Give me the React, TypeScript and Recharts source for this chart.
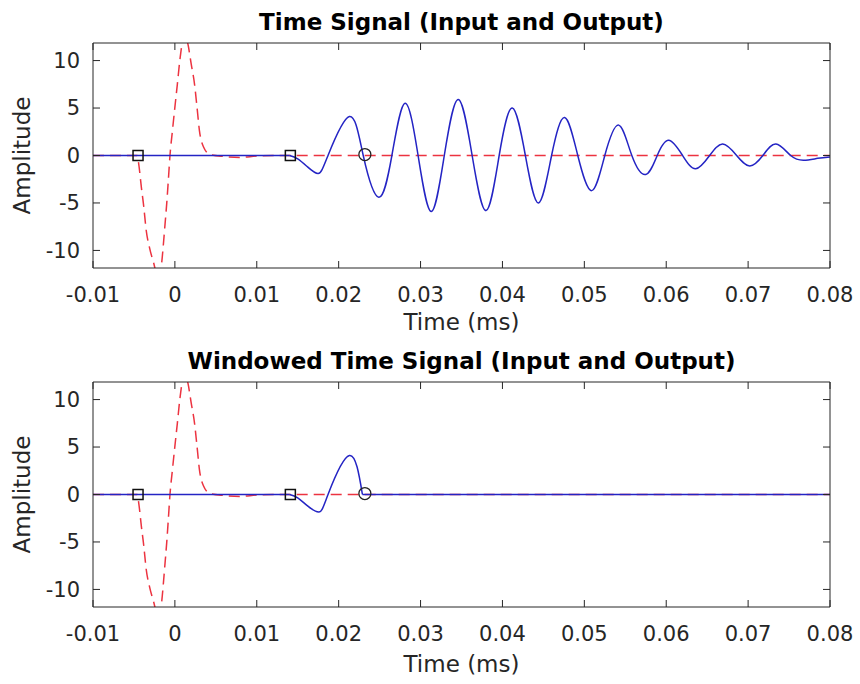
import React from 'react';
import { ComposedChart, Line, XAxis, YAxis } from 'recharts';

const timeTicks = [-0.01, 0, 0.01, 0.02, 0.03, 0.04, 0.05, 0.06, 0.07, 0.08];
const ampTicks = [-10, -5, 0, 5, 10];
const timeDomain: [number, number] = [-0.01, 0.08];
const ampDomain: [number, number] = [-11.85, 11.85];

const titles = ['Time Signal (Input and Output)', 'Windowed Time Signal (Input and Output)'];
const xLabel = 'Time (ms)';
const yLabel = 'Amplitude';

// Input pulse (red dashed)
const inputPulse = [
  { t: -0.01, v: 0 },
  { t: -0.0046, v: 0 },
  { t: -0.0044, v: -1.0 },
  { t: -0.0041, v: -3.3 },
  { t: -0.0038, v: -5.4 },
  { t: -0.0035, v: -7.9 },
  { t: -0.0031, v: -9.7 },
  { t: -0.0026, v: -11.3 },
  { t: -0.002, v: -13.0 },
  { t: -0.0016, v: -11.2 },
  { t: -0.0014, v: -9.3 },
  { t: -0.0012, v: -7.2 },
  { t: -0.001, v: -5.1 },
  { t: -0.0008, v: -2.6 },
  { t: -0.0006, v: 0 },
  { t: -0.0003, v: 2.6 },
  { t: 0.0, v: 5.1 },
  { t: 0.0003, v: 7.5 },
  { t: 0.0006, v: 10.0 },
  { t: 0.0012, v: 12.8 },
  { t: 0.0016, v: 11.7 },
  { t: 0.002, v: 9.6 },
  { t: 0.0024, v: 7.5 },
  { t: 0.0027, v: 5.1 },
  { t: 0.003, v: 2.6 },
  { t: 0.0035, v: 0.9 },
  { t: 0.0043, v: 0.1 },
  { t: 0.006, v: -0.1 },
  { t: 0.008, v: -0.2 },
  { t: 0.01, v: -0.05 },
  { t: 0.012, v: 0 },
  { t: 0.08, v: 0 },
];

// Output (blue solid)
const outputLead = [
  { t: -0.01, v: 0 },
  { t: 0.014, v: 0 },
];

const outputWave = [
  { t: 0.014, v: 0 },
  { t: 0.015, v: -0.35 },
  { t: 0.0162, v: -1.2 },
  { t: 0.0175, v: -1.9 },
  { t: 0.0187, v: 0 },
  { t: 0.0213, v: 4.1 },
  { t: 0.023, v: 0 },
  { t: 0.0249, v: -4.4 },
  { t: 0.0265, v: 0 },
  { t: 0.0281, v: 5.5 },
  { t: 0.0297, v: 0 },
  { t: 0.0313, v: -5.9 },
  { t: 0.0329, v: 0 },
  { t: 0.0346, v: 5.9 },
  { t: 0.0363, v: 0 },
  { t: 0.038, v: -5.8 },
  { t: 0.0396, v: 0 },
  { t: 0.0412, v: 5.0 },
  { t: 0.0428, v: 0 },
  { t: 0.0444, v: -5.0 },
  { t: 0.046, v: 0 },
  { t: 0.0476, v: 4.0 },
  { t: 0.0492, v: 0 },
  { t: 0.0509, v: -3.7 },
  { t: 0.0525, v: 0 },
  { t: 0.0542, v: 3.2 },
  { t: 0.0558, v: 0 },
  { t: 0.0575, v: -2.0 },
  { t: 0.0589, v: 0 },
  { t: 0.0603, v: 1.6 },
  { t: 0.062, v: 0 },
  { t: 0.0636, v: -1.4 },
  { t: 0.0653, v: 0 },
  { t: 0.0669, v: 1.2 },
  { t: 0.0686, v: 0 },
  { t: 0.0702, v: -1.1 },
  { t: 0.0718, v: 0 },
  { t: 0.0734, v: 1.2 },
  { t: 0.0752, v: 0 },
  { t: 0.0768, v: -0.5 },
  { t: 0.0785, v: -0.3 },
  { t: 0.08, v: -0.15 },
];

// Windowed output (blue solid)
const windowedWave = [
  { t: 0.014, v: 0 },
  { t: 0.015, v: -0.35 },
  { t: 0.0162, v: -1.2 },
  { t: 0.0176, v: -1.85 },
  { t: 0.0187, v: 0 },
  { t: 0.0213, v: 4.1 },
  { t: 0.0229, v: 0 },
];
const windowedTail = [
  { t: 0.0229, v: 0 },
  { t: 0.08, v: 0 },
];

// Markers
const startMarks = [
  { t: -0.0045, v: 0 },
  { t: 0.0141, v: 0 },
];
const arrivalMark = [{ t: 0.0232, v: 0.1 }];

const FONT = "'DejaVu Sans', 'Liberation Sans', sans-serif";
const AX = '#262626';
const BLUE = '#2424c4';
const RED = '#ec3340';

const SquareDot = (p: any) => {
  if (p.cx == null || p.cy == null) return <g key={p.index} />;
  return (
    <rect key={p.index} x={p.cx - 5} y={p.cy - 5} width={10} height={10} fill="none" stroke="#111" strokeWidth={1.5} />
  );
};
const CircleDot = (p: any) => {
  if (p.cx == null || p.cy == null) return <g key={p.index} />;
  return <circle key={p.index} cx={p.cx} cy={p.cy} r={6} fill="none" stroke="#222" strokeWidth={1.3} />;
};

type Seg = { data: { t: number; v: number }[]; curve: 'linear' | 'natural' };

function Panel(props: { title: string; top: number; plotTop: number; xLabelGap: number; blue: Seg[] }) {
  const H = 342;
  const plotH = 225;
  const xAxisH = H - props.plotTop - plotH;
  const yCenter = props.plotTop + plotH / 2;
  const noTick = () => <g />;
  return (
    <div style={{ position: 'absolute', left: 0, top: props.top, width: 860, height: H }}>
      <ComposedChart width={860} height={H} margin={{ top: props.plotTop - 1, right: 29, bottom: 0, left: 0 }}>
        <XAxis
          dataKey="t"
          type="number"
          domain={timeDomain}
          ticks={timeTicks}
          interval={0}
          allowDataOverflow
          height={xAxisH}
          stroke={AX}
          tickSize={-7}
          tickMargin={26}
          tick={{ fontSize: 21, fill: AX, fontFamily: FONT }}
          tickFormatter={(v: number) => String(v)}
          label={{ value: xLabel, position: 'insideBottom', offset: xAxisH - props.xLabelGap, fontSize: 23, fill: AX, fontFamily: FONT }}
        />
        <XAxis
          xAxisId="top"
          orientation="top"
          dataKey="t"
          type="number"
          domain={timeDomain}
          ticks={timeTicks}
          interval={0}
          allowDataOverflow
          height={1}
          stroke={AX}
          tickSize={-7}
          tick={noTick}
          label={{ value: props.title, position: 'top', offset: 12.5, fontSize: 23, fontWeight: 'bold', fill: '#000', fontFamily: FONT }}
        />
        <YAxis
          type="number"
          domain={ampDomain}
          ticks={ampTicks}
          interval={0}
          allowDataOverflow
          width={93}
          stroke={AX}
          tickSize={-7}
          tickMargin={20}
          tick={{ fontSize: 21, fill: AX, fontFamily: FONT }}
          label={{
            content: () => (
              <text
                x={30}
                y={yCenter}
                transform={`rotate(-90 30 ${yCenter})`}
                textAnchor="middle"
                fontSize={23}
                fill={AX}
                fontFamily={FONT}
              >
                {yLabel}
              </text>
            ),
          }}
        />
        <YAxis
          yAxisId="right"
          orientation="right"
          type="number"
          domain={ampDomain}
          ticks={ampTicks}
          interval={0}
          allowDataOverflow
          width={1}
          stroke={AX}
          tickSize={-7}
          tick={noTick}
        />
        <Line
          data={inputPulse}
          dataKey="v"
          type="monotone"
          stroke={RED}
          strokeWidth={1.5}
          strokeDasharray="11 6"
          dot={false}
          activeDot={false}
          isAnimationActive={false}
        />
        {props.blue.map((s, i) => (
          <Line
            key={i}
            data={s.data}
            dataKey="v"
            type={s.curve}
            stroke={BLUE}
            strokeWidth={1.5}
            dot={false}
            activeDot={false}
            isAnimationActive={false}
          />
        ))}
        <Line data={startMarks} dataKey="v" stroke="none" dot={SquareDot} activeDot={false} isAnimationActive={false} />
        <Line data={arrivalMark} dataKey="v" stroke="none" dot={CircleDot} activeDot={false} isAnimationActive={false} />
      </ComposedChart>
    </div>
  );
}

export default function App() {
  return (
    <div style={{ position: 'absolute', left: 0, top: 0, width: 860, height: 684, background: '#fff' }}>
      <Panel
        title={titles[0]}
        top={0}
        plotTop={43}
        xLabelGap={62}
        blue={[
          { data: outputLead, curve: 'linear' },
          { data: outputWave, curve: 'natural' },
        ]}
      />
      <Panel
        title={titles[1]}
        top={342}
        plotTop={40}
        xLabelGap={64.5}
        blue={[
          { data: outputLead, curve: 'linear' },
          { data: windowedWave, curve: 'natural' },
          { data: windowedTail, curve: 'linear' },
        ]}
      />
    </div>
  );
}
